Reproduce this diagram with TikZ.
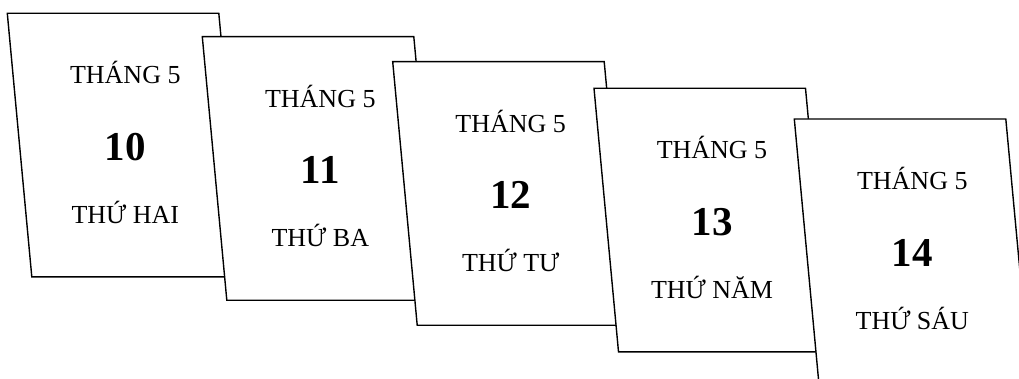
\documentclass[tikz,border=0pt]{standalone}
\usepackage{fontspec}
\setmainfont{Liberation Serif}
\tikzset{
  page/.style={draw=black, fill=white, line width=1.4pt, line join=miter},
  lbl/.style={font=\fontsize{26}{30}\selectfont, anchor=base, inner sep=0pt},
  num/.style={font=\fontsize{41}{48}\selectfont\bfseries, anchor=base, inner sep=0pt},
}
\newcommand\calpage[5]{%
  \draw[page] (#1,#2) -- ++(211.5,0) -- ++(24.5,263.5) -- ++(-211.5,0) -- cycle;
  \node[lbl] (#5month) at (#1+118,#2+70.5) {THÁNG 5};
  \node[num] (#5day) at (#1+118,#2+147) {#3};
  \node[lbl] (#5wd) at (#1+118,#2+210) {#4};
}
\begin{document}
\begin{tikzpicture}[x=1pt,y=-1pt]
  \useasboundingbox (0,0) rectangle (1019,379);
  \clip (0,0) rectangle (1019,379);
  \calpage{7.3}{13.3}{10}{THỨ HAI}{a}
  \calpage{202.3}{36.7}{11}{THỨ BA}{b}
  \calpage{392.7}{61.7}{12}{THỨ TƯ}{c}
  \calpage{594}{88.3}{13}{THỨ NĂM}{d}
  \calpage{794.3}{119}{14}{THỨ SÁU}{e}
\end{tikzpicture}
\end{document}
